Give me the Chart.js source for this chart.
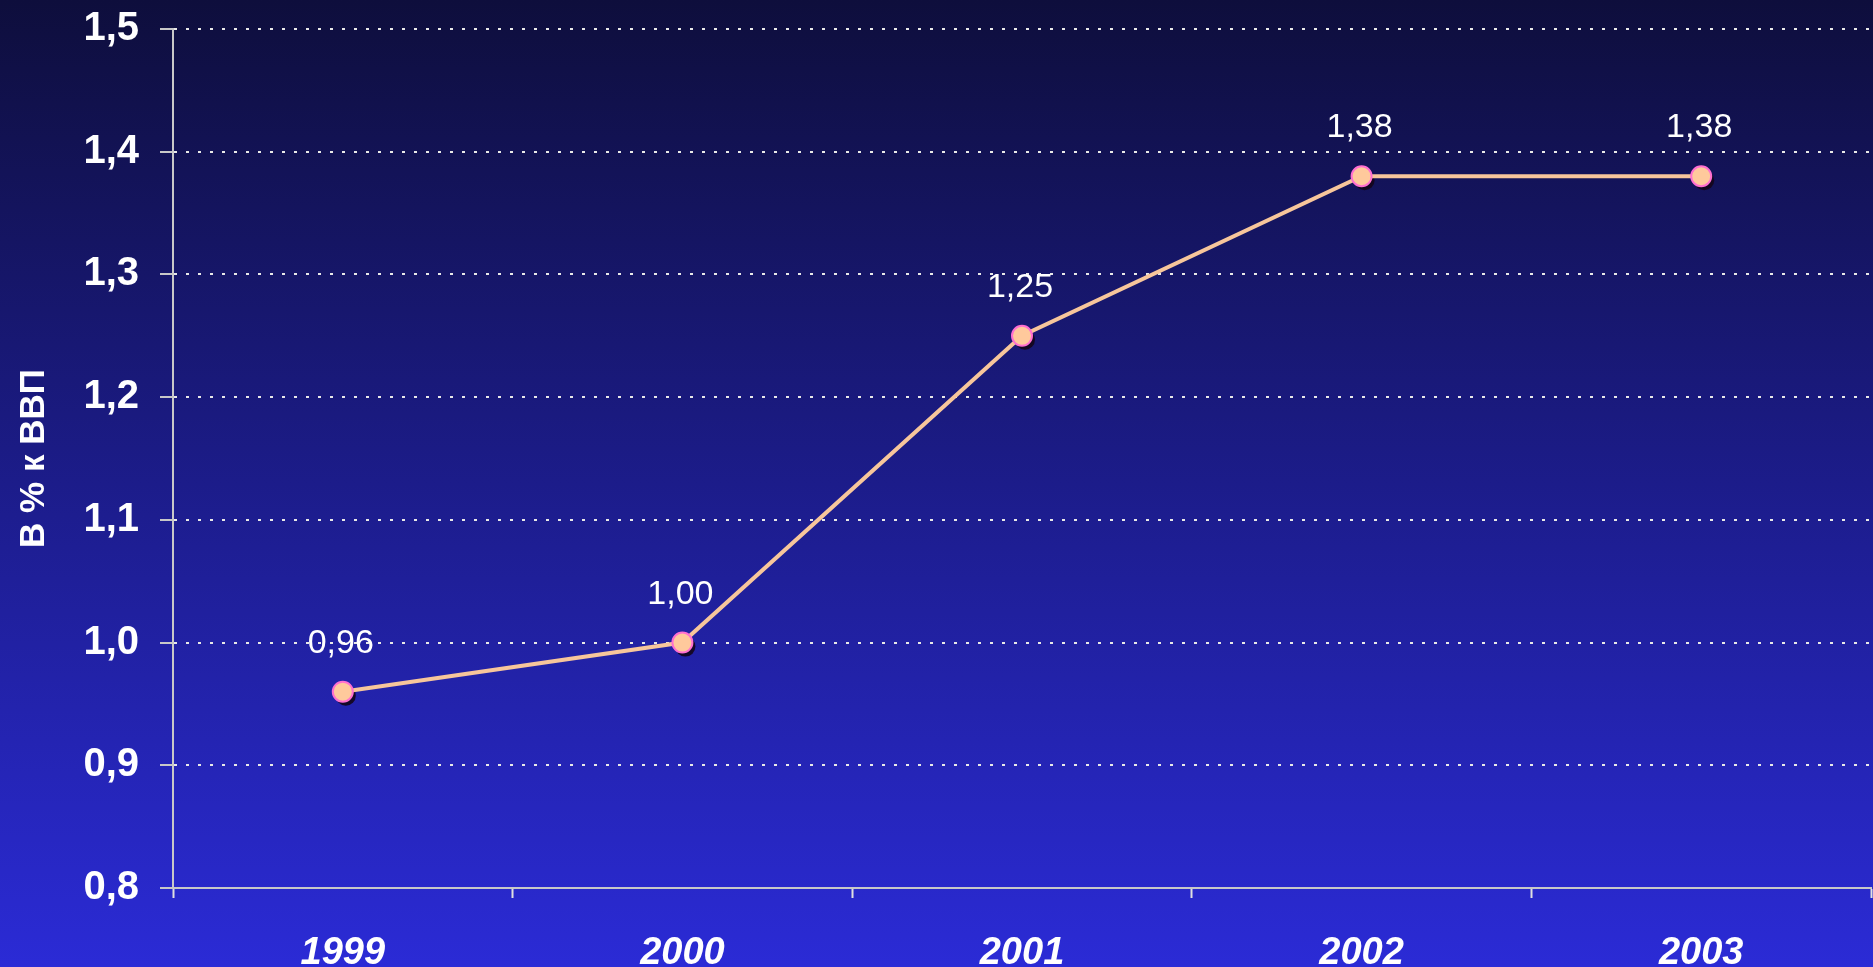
<!DOCTYPE html>
<html lang="ru">
<head>
<meta charset="utf-8">
<title>В % к ВВП</title>
<script src="https://cdn.jsdelivr.net/npm/chart.js@4/dist/chart.umd.min.js"></script>
<style>
    html, body {
        margin: 0;
        padding: 0;
        overflow: hidden;
        background: linear-gradient(to bottom, #0e0e3c 0%, #1c1c8a 50%, #2b2bd6 100%);
    }
    canvas { display: block; }
</style>
</head>
<body>
<canvas id="lineChart" width="1873" height="967"></canvas>
<script>
// Datos del gráfico
const years = ['1999', '2000', '2001', '2002', '2003'];
const values = [0.96, 1.00, 1.25, 1.38, 1.38];
const yTicks = [0.8, 0.9, 1.0, 1.1, 1.2, 1.3, 1.4, 1.5];
const axisTitle = 'В % к ВВП';

const fontFamily = '"Liberation Sans", Arial, sans-serif';

// Sombra de los puntos
const pointShadow = {
    id: 'pointShadow',
    beforeDatasetDraw(chart, args) {
        const ctx = chart.ctx;
        const meta = args.meta;
        ctx.save();
        ctx.fillStyle = 'rgba(20, 5, 25, 0.9)';
        meta.data.forEach(pt => {
            ctx.beginPath();
            ctx.arc(pt.x + 3, pt.y + 4, 10, 0, Math.PI * 2);
            ctx.fill();
        });
        ctx.restore();
    }
};

// Etiquetas de valores encima de los puntos
const valueLabels = {
    id: 'valueLabels',
    afterDatasetsDraw(chart) {
        const ctx = chart.ctx;
        const meta = chart.getDatasetMeta(0);
        ctx.save();
        ctx.fillStyle = '#ffffff';
        ctx.font = '34px ' + fontFamily;
        ctx.textAlign = 'center';
        ctx.textBaseline = 'alphabetic';
        meta.data.forEach((pt, i) => {
            ctx.fillText(values[i].toFixed(2).replace('.', ','), pt.x - 2, pt.y - 39);
        });
        ctx.restore();
    }
};

const ctx = document.getElementById('lineChart').getContext('2d');
const lineChart = new Chart(ctx, {
    type: 'line',
    data: {
        labels: years,
        datasets: [{
            data: values,
            borderColor: '#f7c69b',
            borderWidth: 4,
            backgroundColor: '#ffc99c',
            pointBackgroundColor: '#ffc99c',
            pointBorderColor: '#ff6fd0',
            pointBorderWidth: 2,
            pointRadius: 10,
            pointHoverRadius: 10,
            tension: 0,
            fill: false
        }]
    },
    options: {
        responsive: false,
        animation: false,
        layout: { autoPadding: false, padding: { top: 29, right: 2, left: 0, bottom: 0 } },
        plugins: {
            legend: { display: false },
            tooltip: { enabled: false }
        },
        scales: {
            x: {
                type: 'category',
                offset: true,
                grid: {
                    offset: true,
                    drawOnChartArea: false,
                    tickLength: 10,
                    tickColor: '#e0e0e0',
                    tickWidth: 2
                },
                border: { color: '#c8c8c8', width: 2 },
                ticks: {
                    color: '#ffffff',
                    padding: 33,
                    font: { family: fontFamily, size: 38, weight: 'bold', style: 'italic' }
                },
                afterFit(scale) {
                    scale.height = 79;
                    scale.paddingLeft = 0;
                    scale.paddingRight = 0;
                }
            },
            y: {
                min: 0.8,
                max: 1.5,
                afterBuildTicks(scale) {
                    scale.ticks = yTicks.map(v => ({ value: v }));
                },
                grid: {
                    color: c => (c.tick && c.tick.value === 0.8) ? 'rgba(0,0,0,0)' : '#e8e8e8',
                    lineWidth: 2,
                    tickLength: 13,
                    tickColor: '#c8c8c8',
                    tickWidth: 2
                },
                border: { color: '#c8c8c8', width: 2, dash: [3, 9] },
                ticks: {
                    color: '#ffffff',
                    padding: 21,
                    font: { family: fontFamily, size: 40, weight: 'bold' },
                    callback: v => v.toFixed(1).replace('.', ',')
                },
                title: {
                    display: true,
                    text: axisTitle,
                    color: '#ffffff',
                    padding: { top: 13, bottom: 0 },
                    font: { family: fontFamily, size: 35, weight: 'bold' }
                },
                afterFit(scale) {
                    scale.width = 173;
                    scale.paddingTop = 0;
                    scale.paddingBottom = 0;
                }
            }
        }
    },
    plugins: [pointShadow, valueLabels]
});
</script>
</body>
</html>
